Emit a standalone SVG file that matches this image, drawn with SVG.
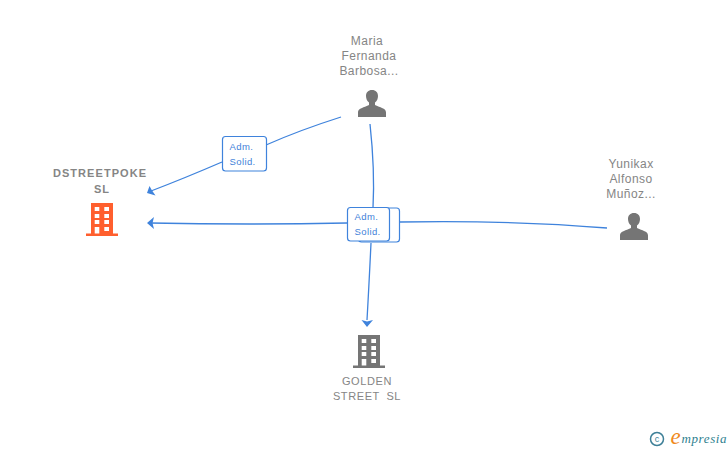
<svg xmlns="http://www.w3.org/2000/svg" width="728" height="450" viewBox="0 0 728 450">
<style>
text{font-family:"Liberation Sans",Arial,sans-serif;text-anchor:middle}
.n{font-size:12px;fill:#858585;letter-spacing:.45px}
.b{font-size:11px;fill:#858585;font-weight:bold;letter-spacing:1.05px}
.g{font-size:11px;fill:#858585;letter-spacing:.6px;word-spacing:3px}
.l{font-size:9.500px;fill:#3f7fd9;letter-spacing:.4px;text-anchor:start}
.c{fill:none;stroke:#3f83dc;stroke-width:1.300}
.box{fill:#fff;stroke:#3f83dc;stroke-width:1.200}
.a{fill:#3f83dc}
</style>
<defs>
<g id="person"><path fill="#757575" d="M-14 13.500V9C-14 6 -11.500 4.800 -7 3.200L-3 1.500V-1C-5 -2.500 -6 -5 -6 -7.500C-6 -11 -3.800 -13.500 0 -13.500C3.800 -13.500 6 -11 6 -7.500C6 -5 5 -2.500 3 -1V1.500L7 3.200C11.500 4.800 14 6 14 9V13.500Z"/></g>
<g id="building">
<path fill-rule="evenodd" d="M-11 -17H11V13.500H16V16H-16V13.500H-11ZM-7.300 -13V-9H-2.700V-13ZM2.300 -13V-9H7V-13ZM-7.300 -6V-2H-2.700V-6ZM2.300 -6V-2H7V-6ZM-7.300 0V4H-2.700V0ZM2.300 0V4H7V0ZM-7.300 7V13.500H-2.700V7ZM2.300 7V11H7V7Z"/>
</g>
</defs>
<g id="connectors">
<path class="c" d="M341 117Q300 130 266 145"/>
<path class="c" d="M222 162Q185 178 151 191"/>
<path class="a" d="M147 193L149.500 186L152 190.500L155.500 195.500Z"/>
<path class="c" d="M370 124Q375 170 373 208"/>
<path class="c" d="M371 243Q369 285 367 320"/>
<path class="a" d="M367 327L361.500 320L367 321.500L373 320Z"/>
<path class="c" d="M607 228Q510 220 400 222"/>
<path class="c" d="M347 223Q250 225 150 223"/>
<path class="a" d="M147 223L154 217L152.500 223L154 229Z"/>
</g>
<g id="edge-label-1"><rect class="box" x="222.500" y="136.500" width="44" height="34.500" rx="3"/><text class="l" x="229.500" y="150">Adm.</text><text class="l" x="229.500" y="165">Solid.</text></g>
<g id="edge-label-2"><rect class="box" x="358.500" y="208" width="41" height="34" rx="3"/></g>
<g id="edge-label-3"><rect class="box" x="347.500" y="207.500" width="42" height="33.500" rx="3"/><text class="l" x="354.500" y="220">Adm.</text><text class="l" x="354.500" y="235">Solid.</text></g>
<g id="node-dstreetpoke"><text class="b" x="100" y="177">DSTREETPOKE</text><text class="b" x="102" y="193">SL</text><use href="#building" x="102" y="220" fill="#ff5f2e"/></g>
<g id="node-maria"><text class="n" x="367" y="45">Maria</text><text class="n" x="369" y="60">Fernanda</text><text class="n" x="369" y="75">Barbosa...</text><use href="#person" x="372" y="103.500"/></g>
<g id="node-yunikax"><text class="n" x="631" y="168">Yunikax</text><text class="n" x="631" y="183">Alfonso</text><text class="n" x="631" y="198">Muñoz...</text><use href="#person" x="634" y="226.500"/></g>
<g id="node-golden"><use href="#building" x="369" y="352" fill="#757575"/><text class="g" x="367" y="385">GOLDEN</text><text class="g" x="367" y="400">STREET SL</text></g>
<g id="watermark"><circle cx="657" cy="439" r="6.500" fill="none" stroke="#3d7f97" stroke-width="1.500"/><text x="657" y="442" style="font-size:9px;fill:#3d7f97">c</text><text x="670.500" y="444" style="text-anchor:start;font-family:'Liberation Serif',serif;font-size:23px;font-style:italic;fill:#f08a1d">e</text><text x="681.500" y="443" style="text-anchor:start;font-family:'Liberation Serif',serif;font-size:13px;font-style:italic;fill:#2f7f8f;letter-spacing:.6px">mpresia</text></g>
</svg>
